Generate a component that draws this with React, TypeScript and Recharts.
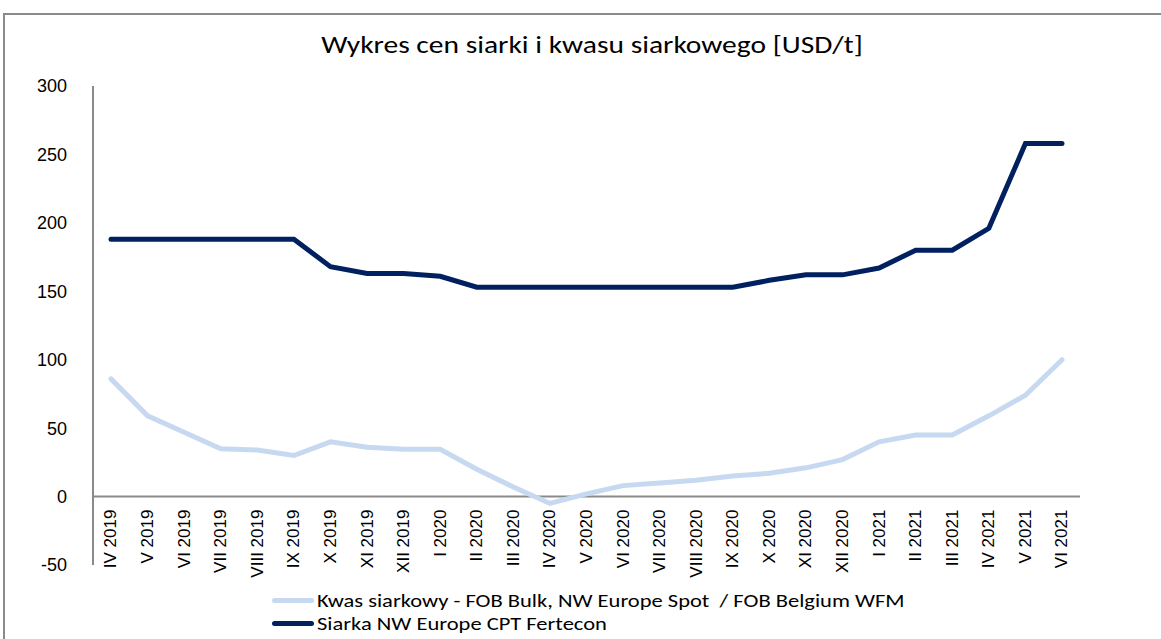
import React from "react";
import {
  LineChart,
  Line,
  XAxis,
  YAxis,
  ReferenceLine
} from "recharts";

const months = [
  "IV 2019", "V 2019", "VI 2019", "VII 2019", "VIII 2019", "IX 2019", "X 2019", "XI 2019", "XII 2019",
  "I 2020", "II 2020", "III 2020", "IV 2020", "V 2020", "VI 2020", "VII 2020", "VIII 2020", "IX 2020",
  "X 2020", "XI 2020", "XII 2020", "I 2021", "II 2021", "III 2021", "IV 2021", "V 2021", "VI 2021"
];

const kwas = [
  86, 59, 47, 35, 34, 30, 40, 36, 34.5,
  34.5, 20, 7, -5, 2, 8, 10, 12, 15,
  17, 21, 27, 40, 45, 45, 59, 74, 100
];

const siarka = [
  188, 188, 188, 188, 188, 188, 168, 163, 163,
  161, 153, 153, 153, 153, 153, 153, 153, 153,
  158, 162, 162, 167, 180, 180, 196, 258, 258
];

const yTicks = [300, 250, 200, 150, 100, 50, 0, -50];

const KWAS_NAME = "Kwas siarkowy - FOB Bulk, NW Europe Spot  / FOB Belgium WFM";
const SIARKA_NAME = "Siarka NW Europe CPT Fertecon";

const data = months.map((m, i) => ({ month: m, kwas: kwas[i], siarka: siarka[i] }));

// chart box
const W = 1161;
const H = 639;
const TOP = 86;
const BOTTOM = 565;
const PLOT_H = BOTTOM - TOP;
const Y_MIN = -50;
const Y_MAX = 300;
const ZERO_Y = TOP + (PLOT_H * Y_MAX) / (Y_MAX - Y_MIN);
const BAND_PAD = 18;

const FONT_TXT = "Calibri, Carlito, Lato, 'Noto Sans', sans-serif";
const FONT_AX = "Arial, 'Liberation Sans', sans-serif";

// x labels sit under the zero line, not under the plot
const MonthTick = (props: any) => {
  const { x, payload } = props;
  const y = ZERO_Y + 13;
  return (
    <text
      x={x}
      y={y}
      transform={`rotate(-90, ${x}, ${y})`}
      textAnchor="end"
      dominantBaseline="central"
      fontSize={17}
      fontFamily={FONT_AX}
      fill="#000"
    >
      {payload.value}
    </text>
  );
};

const legendItems = [
  { name: KWAS_NAME, color: "#c6d9f1" },
  { name: SIARKA_NAME, color: "#002060" }
];

export default function App() {
  return (
    <div style={{ position: "absolute", left: 0, top: 0, width: W, height: H, overflow: "hidden", background: "#fff" }}>
      <div
        style={{
          position: "absolute",
          left: 3,
          top: 13,
          width: W + 20,
          height: H + 20,
          border: "2px solid #8a8a8a"
        }}
      />
      <div
        style={{
          position: "absolute",
          left: 0,
          top: 29,
          width: 1184,
          textAlign: "center",
          fontFamily: FONT_TXT,
          fontSize: 25,
          color: "#000",
          transform: "scaleX(1.18)",
          transformOrigin: "592px 0"
        }}
      >
        Wykres cen siarki i kwasu siarkowego [USD/t]
      </div>
      <div style={{ position: "absolute", left: 0, top: 0 }}>
        <LineChart width={W} height={H} data={data} margin={{ top: TOP, right: 81, left: 0, bottom: H - BOTTOM - 1 }}>
          <XAxis
            dataKey="month"
            height={1}
            axisLine={false}
            tickLine={false}
            interval={0}
            padding={{ left: BAND_PAD, right: BAND_PAD }}
            tick={<MonthTick />}
          />
          <YAxis
            width={93}
            domain={[Y_MIN, Y_MAX]}
            ticks={yTicks}
            interval={0}
            axisLine={{ stroke: "#8a8a8a", strokeWidth: 2 }}
            tickLine={false}
            tickMargin={20}
            tick={{ fontSize: 18, fontFamily: FONT_AX, fill: "#000" }}
          />
          <ReferenceLine y={0} stroke="#8a8a8a" strokeWidth={2} />
          <Line
            type="linear"
            dataKey="kwas"
            name={KWAS_NAME}
            stroke="#c6d9f1"
            strokeWidth={5}
            strokeLinecap="round"
            dot={false}
            isAnimationActive={false}
          />
          <Line
            type="linear"
            dataKey="siarka"
            name={SIARKA_NAME}
            stroke="#002060"
            strokeWidth={5}
            strokeLinecap="round"
            dot={false}
            isAnimationActive={false}
          />
        </LineChart>
      </div>
      <div style={{ position: "absolute", left: 272, top: 589 }}>
        {legendItems.map((it) => (
          <div key={it.name} style={{ display: "flex", alignItems: "center", height: 23 }}>
            <div style={{ width: 42, height: 5, borderRadius: 3, background: it.color, marginRight: 3 }} />
            <span
              style={{
                fontFamily: FONT_TXT,
                fontSize: 18,
                color: "#000",
                whiteSpace: "pre",
                display: "inline-block",
                transform: "scaleX(1.25)",
                transformOrigin: "0 50%"
              }}
            >
              {it.name}
            </span>
          </div>
        ))}
      </div>
    </div>
  );
}
